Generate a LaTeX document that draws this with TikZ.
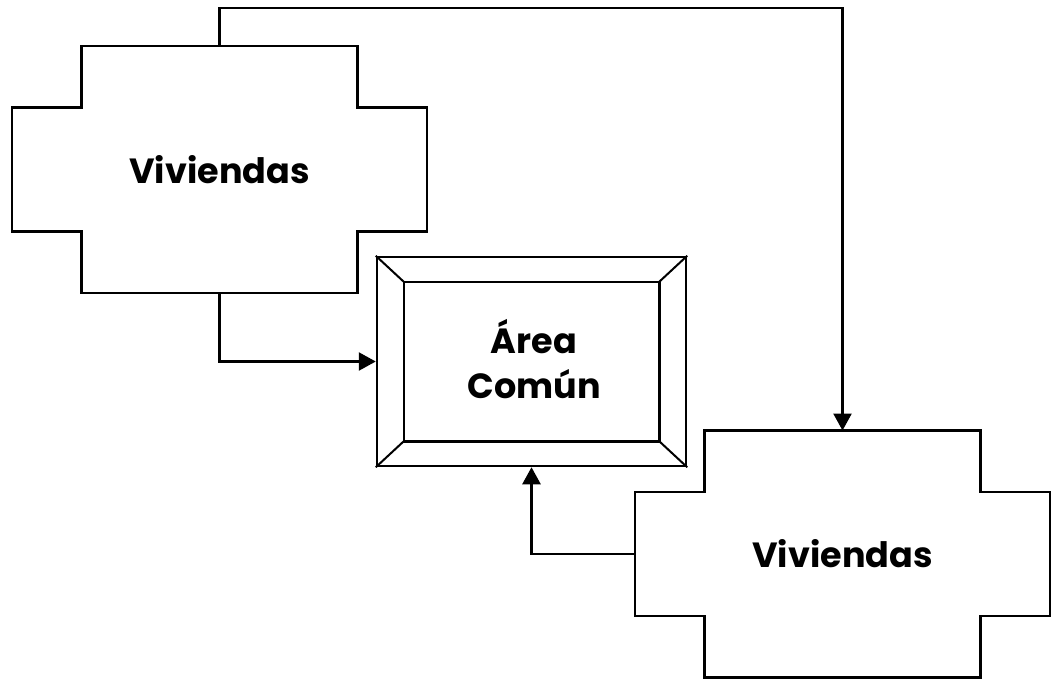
\documentclass[tikz,border=0pt]{standalone}
\usepackage{fontspec}
\setmainfont{Poppins}
\usetikzlibrary{arrows.meta,calc}
\tikzset{
  shapeline/.style={draw=black, line width=2.5pt, line join=miter},
  conn/.style={draw=black, line width=2.5pt, -{Triangle[length=17pt,width=18pt]}},
  label/.style={font=\fontsize{35}{45}\selectfont\bfseries, align=center, inner sep=0pt},
  viv/.pic={
    \draw[shapeline] (-138,-123.5) -- (138,-123.5) -- (138,-62) -- (207.5,-62)
      -- (207.5,62) -- (138,62) -- (138,123.5) -- (-138,123.5) -- (-138,62)
      -- (-207.5,62) -- (-207.5,-62) -- (-138,-62) -- cycle;
    \node[label] (-txt) at (0,0) {Viviendas};
    \coordinate (-n) at (0,-123.5);
    \coordinate (-s) at (0,123.5);
    \coordinate (-w) at (-207.5,0);
  }
}
\begin{document}
\begin{tikzpicture}[x=1pt,y=-1pt]
\useasboundingbox (0,0) rectangle (1056,680);
\fill[white] (0,0) rectangle (1056,680);
\pic (v1) at (219.5,169.5) {viv};
\pic (v2) at (842.5,554) {viv};
\node[shapeline, minimum width=309pt, minimum height=209pt, inner sep=0pt] (area) at (531.5,361.5) {};
\draw[shapeline] ($(area.north west)+(28,26)$) rectangle ($(area.south east)+(-28,-26)$);
\draw[line width=2pt] (area.north west) -- ++(28,26);
\draw[line width=2pt] (area.north east) -- ++(-28,26);
\draw[line width=2pt] (area.south west) -- ++(28,-26);
\draw[line width=2pt] (area.south east) -- ++(-28,-26);
\node[label] (areatxt) at (534,359) {Área\\Común};
\draw[conn] (v1-n) -- ++(0,-38) -| (v2-n);
\draw[conn] (v1-s) |- (area.west);
\draw[conn] (v2-w) -| (area.south);
\end{tikzpicture}
\end{document}
